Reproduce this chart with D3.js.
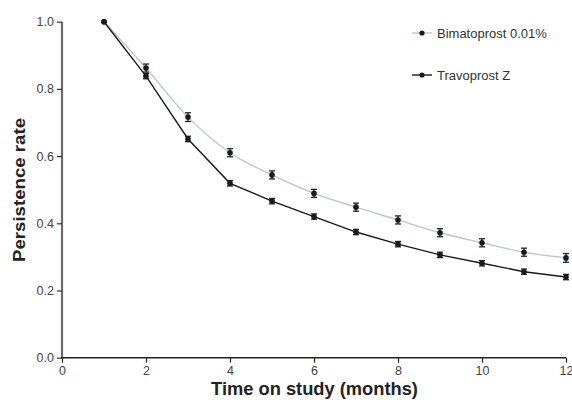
<!DOCTYPE html>
<html><head><meta charset="utf-8">
<script src="https://cdn.jsdelivr.net/npm/d3@7"></script>
<style>body{margin:0;background:#fff}svg{display:block}</style>
</head><body>
<svg id="c" width="572" height="400"></svg>
<script>
const months = [1,2,3,4,5,6,7,8,9,10,11,12];
const bimatoprost = [1.0,0.862,0.716,0.610,0.544,0.489,0.448,0.410,0.372,0.342,0.314,0.297];
const bimatoprostErr = [0,0.012,0.013,0.012,0.012,0.012,0.012,0.012,0.012,0.012,0.012,0.013];
const travoprost = [1.0,0.838,0.651,0.519,0.466,0.420,0.374,0.338,0.306,0.281,0.256,0.240];
const travoprostErr = [0,0.008,0.008,0.008,0.008,0.008,0.008,0.008,0.008,0.008,0.008,0.008];
const xTicks = [0,2,4,6,8,10,12];
const yTicks = [0.0,0.2,0.4,0.6,0.8,1.0];
const seriesNames = ["Bimatoprost 0.01%","Travoprost Z"];

const svg = d3.select("#c");
const x = d3.scaleLinear().domain([0,12]).range([62,566]);
const y = d3.scaleLinear().domain([0,1]).range([357.7,21.7]);
const font = "Liberation Sans, Arial, sans-serif";

// y axis
const ya = svg.append("g").attr("transform","translate(62,0)")
  .call(d3.axisLeft(y).tickValues(yTicks).tickFormat(d3.format(".1f")).tickSize(5).tickSizeOuter(0));
ya.select(".domain").attr("stroke","#6a6a6a").attr("stroke-width",2.2).attr("d","M0,"+y(1)+"V"+y(0));
ya.selectAll(".tick line").attr("stroke","#333").attr("stroke-width",1.2);
ya.selectAll(".tick text").attr("font-family",font).attr("font-size",12.5).attr("fill","#444").attr("x",-8);

// x axis
const xa = svg.append("g").attr("transform","translate(0,"+y(0)+")")
  .call(d3.axisBottom(x).tickValues(xTicks).tickFormat(d3.format("d")).tickSize(5).tickSizeOuter(0));
xa.select(".domain").attr("stroke","#222").attr("stroke-width",1.5).attr("d","M61,0H"+x(12));
xa.selectAll(".tick line").attr("stroke","#222").attr("stroke-width",1.2);
xa.selectAll(".tick text").attr("font-family",font).attr("font-size",12.5).attr("fill","#444")
  .attr("y",17.5).attr("dy",null);

// titles
svg.append("text").attr("x",314.5).attr("y",395).attr("text-anchor","middle")
  .attr("font-family",font).attr("font-size",18.3).attr("font-weight","bold").attr("fill","#222")
  .text("Time on study (months)");
svg.append("text").attr("transform","translate(25,190) rotate(-90)").attr("text-anchor","middle")
  .attr("font-family",font).attr("font-size",16.5).attr("font-weight","bold").attr("fill","#222")
  .attr("textLength",144).attr("lengthAdjust","spacingAndGlyphs")
  .text("Persistence rate");

const series = [
  {name:seriesNames[0], vals:bimatoprost, err:bimatoprostErr, color:"#b9c5d8", curve:d3.curveMonotoneX},
  {name:seriesNames[1], vals:travoprost, err:travoprostErr, color:"#1a1a1a", curve:d3.curveLinear}
];

series.forEach(s=>{
  const data = months.map((m,i)=>({m, v:s.vals[i], e:s.err[i]}));
  svg.append("path").datum(data)
    .attr("d", d3.line().x(d=>x(d.m)).y(d=>y(d.v)).curve(s.curve))
    .attr("fill","none").attr("stroke",s.color).attr("stroke-width",1.4);
  const g = svg.append("g");
  data.filter(d=>d.e>0).forEach(d=>{
    g.append("line").attr("x1",x(d.m)).attr("x2",x(d.m)).attr("y1",y(d.v+d.e)).attr("y2",y(d.v-d.e))
      .attr("stroke","#222").attr("stroke-width",1.3);
    [d.v+d.e,d.v-d.e].forEach(v=>g.append("line").attr("x1",x(d.m)-3).attr("x2",x(d.m)+3)
      .attr("y1",y(v)).attr("y2",y(v)).attr("stroke","#222").attr("stroke-width",1.3));
  });
  g.selectAll("circle").data(data).enter().append("circle")
    .attr("cx",d=>x(d.m)).attr("cy",d=>y(d.v)).attr("r",2.8).attr("fill","#1a1a1a");
});

// legend
const lg = svg.append("g");
[[seriesNames[0],series[0].color,33],[seriesNames[1],series[1].color,75]].forEach(([n,c,ly])=>{
  lg.append("line").attr("x1",412).attr("x2",432).attr("y1",ly).attr("y2",ly).attr("stroke",c).attr("stroke-width",1.4);
  lg.append("circle").attr("cx",422).attr("cy",ly).attr("r",2.6).attr("fill","#1a1a1a");
  lg.append("text").attr("x",437).attr("y",ly+4.5).attr("font-family",font).attr("font-size",13).attr("fill","#333").text(n);
});
</script>
</body></html>
